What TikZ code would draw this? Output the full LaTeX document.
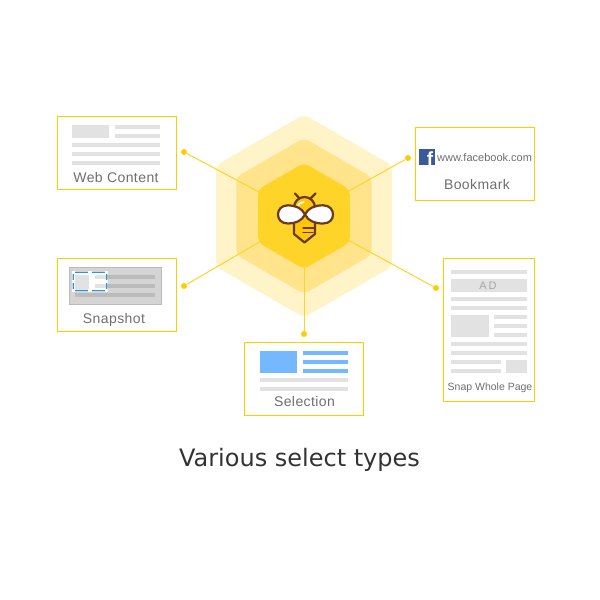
\documentclass[tikz,border=0pt]{standalone}
\usepackage{fontspec}
\usepackage{tikz}
\usetikzlibrary{shapes.geometric,positioning,calc}
\setmainfont{Liberation Sans}
\newfontfamily\spacedfont[LetterSpace=3]{Liberation Sans}
\newfontfamily\captionfont{DejaVu Sans}
\definecolor{goldline}{HTML}{FFCC00}
\definecolor{honeyA}{HTML}{FFF3C8}
\definecolor{honeyB}{HTML}{FFE48C}
\definecolor{honeyC}{HTML}{FFD428}
\definecolor{beebody}{HTML}{FFC60A}
\definecolor{beebrown}{HTML}{6B3A1E}
\definecolor{bargrey}{HTML}{E2E2E2}
\definecolor{shotgrey}{HTML}{D4D4D4}
\definecolor{shotbar}{HTML}{BBBBBB}
\definecolor{selblue}{HTML}{74B9FF}
\definecolor{handleblue}{HTML}{2196F3}
\definecolor{fbblue}{HTML}{3B5998}
\definecolor{labelgrey}{HTML}{6E6E6E}
\tikzset{
  hexcell/.style={regular polygon,regular polygon sides=6,regular polygon rotate=30,
    inner sep=0pt,outer sep=0pt,rounded corners=5pt,fill=#1},
  typebox/.style={draw=goldline,line width=1.2pt},
  typelabel/.style={text=labelgrey,font=\spacedfont\fontsize{14}{14}\selectfont,anchor=base},
  pin/.style={circle,fill=goldline,inner sep=0pt,minimum size=6pt},
  spoke/.style={draw=goldline!85!white,line width=1pt},
  bee/.style={draw=beebrown,line width=2.2pt,line join=round,line cap=round}
}
\begin{document}
\begin{tikzpicture}[x=1pt,y=-1pt]
    \useasboundingbox (0,0) rectangle (600,600);

    % Honeycomb
    \coordinate (hub) at (304,216);
    \node[hexcell=honeyA,minimum size=203pt] (hexOuter) at (hub) {};
    \node[hexcell=honeyB,minimum size=156pt] (hexMiddle) at (hub) {};

    % Pins and spokes
    \node[pin] (pinWeb) at (184,152) {};
    \node[pin] (pinShot) at (184,286) {};
    \node[pin] (pinMark) at (408,158) {};
    \node[pin] (pinPage) at (436,288) {};
    \node[pin] (pinSel) at (304,334) {};
    \foreach \p in {pinWeb,pinShot,pinMark,pinPage,pinSel} {
        \draw[spoke] (hub) -- (\p);
    }
    \node[hexcell=honeyC,minimum size=106pt] (hexInner) at (hub) {};

    % Bee
    \draw[bee] (300,199) -- (295,193.5);
    \draw[bee] (310,199) -- (315.5,193.5);
    \draw[bee,fill=beebody] (294,213) -- (294,234) -- (304.5,242.5) -- (315,234) -- (315,213) -- (315,207.5) arc (0:-180:10.5 and 10.5) -- cycle;
    \draw[white,line width=1.6pt,line cap=round] (297.5,208) arc (180:265:7 and 6);
    \draw[bee,line width=1.3pt] (303,228) -- (314,228);
    \draw[bee,line width=1.3pt] (303,232.5) -- (313,232.5);
    \draw[bee,fill=white] (305,214.5) .. controls (302,208) and (295,205.3) .. (288,205.3) .. controls (281,205.3) and (278,210) .. (278,214.5) .. controls (278,219) and (281,223.5) .. (288,223.5) .. controls (295,223.5) and (302,221) .. (305,214.5);
    \draw[bee,fill=white] (305,214.5) .. controls (308,208) and (315,205.3) .. (323,205.3) .. controls (330,205.3) and (333,210) .. (333,214.5) .. controls (333,219) and (330,223.5) .. (323,223.5) .. controls (315,223.5) and (308,221) .. (305,214.5);

    % Web Content
    \draw[typebox] (57.5,116.5) rectangle (176.5,189.5);
    \fill[bargrey] (72,125) rectangle (109,138);
    \foreach \y in {125,134} {
        \fill[bargrey] (115,\y) rectangle (160,\y+4);
    }
    \foreach \y in {143,152,161} {
        \fill[bargrey] (72,\y) rectangle (160,\y+4);
    }
    \node[typelabel] (labelWeb) at (116,182) {Web Content};

    % Snapshot
    \draw[typebox] (57.5,258.5) rectangle (176.5,331.5);
    \draw[fill=shotgrey,draw=shotbar,line width=0.8pt] (69.5,267.5) rectangle (161.5,304.5);
    \foreach \y in {275,284,293} {
        \fill[shotbar] (75,\y) rectangle (155,\y+4);
    }
    \fill[white] (73.5,272) rectangle (106.5,290.5);
    \fill[bargrey] (75,275) rectangle (89,289.5);
    \fill[bargrey] (95,275) rectangle (106,279);
    \fill[bargrey] (95,284) rectangle (106,288);
    \draw[handleblue,line width=1.2pt] (73.5,272.3) rectangle (106.7,290.7);
    \foreach \x in {73.5,90,106.7} {
        \foreach \y in {272.3,290.7} {
            \fill[white] (\x-1.7,\y-1.7) rectangle (\x+1.7,\y+1.7);
        }
    }
    \foreach \x in {73.5,106.7} {
        \fill[white] (\x-1.7,279.8) rectangle (\x+1.7,283.2);
    }
    \node[typelabel] (labelShot) at (114,323) {Snapshot};

    % Bookmark
    \draw[typebox] (415.5,127.5) rectangle (534.5,200.5);
    \fill[fbblue] (419,149) rectangle (435,165);
    \node[text=white,font=\bfseries\fontsize{19}{19}\selectfont,anchor=base,inner sep=0pt] (fbGlyph) at (430,165) {f};
    \node[text=labelgrey,font=\fontsize{11}{12}\selectfont,anchor=base west,inner sep=0pt] (labelUrl) at (437,161) {www.facebook.com};
    \node[typelabel] (labelMark) at (477,189) {Bookmark};

    % Snap Whole Page
    \draw[typebox] (443.5,258.5) rectangle (534.5,401.5);
    \foreach \y in {270,297,306,342,351} {
        \fill[bargrey] (451,\y) rectangle (527,\y+4);
    }
    \fill[bargrey] (451,279) rectangle (527,292);
    \node[text=black!35,font=\fontsize{11}{11}\selectfont,anchor=base] (labelAd) at (488,289) {A\kern2pt D};
    \fill[bargrey] (451,315) rectangle (489,337);
    \foreach \y in {315,324,333} {
        \fill[bargrey] (494,\y) rectangle (527,\y+4);
    }
    \foreach \y in {360,369} {
        \fill[bargrey] (451,\y) rectangle (501,\y+4);
    }
    \fill[bargrey] (506,360) rectangle (527,373);
    \node[text=labelgrey,font=\fontsize{10.5}{11}\selectfont,anchor=base] (labelPage) at (490,390) {Snap Whole Page};

    % Selection
    \draw[typebox] (244.5,342.5) rectangle (363.5,415.5);
    \fill[selblue] (260,351) rectangle (297,373);
    \foreach \y in {351,360,369} {
        \fill[selblue] (303,\y) rectangle (348,\y+4);
    }
    \foreach \y in {378,387} {
        \fill[bargrey] (260,\y) rectangle (348,\y+4);
    }
    \node[typelabel] (labelSel) at (304.5,406) {Selection};

    % Caption
    \node[text=black!80,font=\captionfont\fontsize{24}{25}\selectfont,anchor=base] (caption) at (299.5,466) {Various select types};
\end{tikzpicture}
\end{document}
